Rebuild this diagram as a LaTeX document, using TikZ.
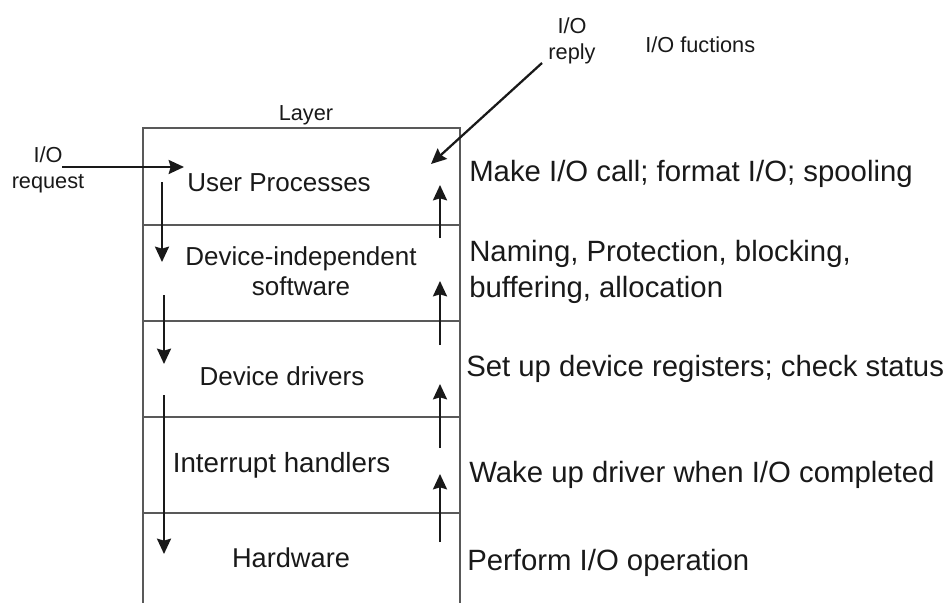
\documentclass[tikz,border=0pt]{standalone}
\usepackage{fontspec}
\setmainfont{Liberation Sans}
\usetikzlibrary{arrows.meta}

\begin{document}
\begin{tikzpicture}[x=0.75pt, y=-0.75pt, >={Stealth[length=11.5pt, width=10.5pt, inset=1.5pt]},
	layertext/.style={anchor=base, align=center, inner sep=0pt, text=black!90, font=\fontsize{19.5}{22}\selectfont},
	fntext/.style={anchor=base west, align=left, inner sep=0pt, text=black!90, font=\fontsize{22}{27}\selectfont},
	smalltext/.style={anchor=base, align=center, inner sep=0pt, text=black!90, font=\fontsize{16.3}{19.5}\selectfont},
	flow/.style={->, line width=1.7pt, black!90},
	rule/.style={line width=1pt, black!65}]
	\useasboundingbox (0, 0) rectangle (946, 603);
	% the layer stack, open at the bottom
	\draw[rule] (143, 603) -- (143, 128) -- (460, 128) -- (460, 603);
	\draw[rule] (143, 225) -- (460, 225);
	\draw[rule] (143, 321) -- (460, 321);
	\draw[rule] (143, 417) -- (460, 417);
	\draw[rule] (143, 513) -- (460, 513);
	% headings (two-line nodes sit on their last line)
	\node[smalltext] (layer) at (306, 120) {Layer};
	\node[smalltext] (reply) at (572, 59) {I/O\\reply};
	\node[smalltext, anchor=base west] (fns) at (645, 52) {I/O fuctions};
	\node[smalltext] (request) at (48, 188) {I/O\\request};
	% layers
	\node[layertext] (user) at (279, 191) {User Processes};
	\node[layertext] (indep) at (301, 295) {Device-independent\\software};
	\node[layertext] (drivers) at (282, 385) {Device drivers};
	\node[layertext, font=\fontsize{20.8}{22}\selectfont] (intr) at (281.5, 472) {Interrupt handlers};
	\node[layertext, font=\fontsize{20.4}{22}\selectfont] (hw) at (291, 567) {Hardware};
	% functions
	\node[fntext] (fnuser) at (469, 181) {Make I/O call; format I/O; spooling};
	\node[fntext] (fnindep) at (469, 297) {Naming, Protection, blocking,\\buffering, allocation};
	\node[fntext] (fndrivers) at (466, 376) {Set up device registers; check status};
	\node[fntext] (fnintr) at (469, 482) {Wake up driver when I/O completed};
	\node[fntext] (fnhw) at (467, 570) {Perform I/O operation};
	% arrow ends
	\coordinate (reqa) at (62, 167);   \coordinate (reqb) at (184, 167);
	\coordinate (repa) at (542, 63);   \coordinate (repb) at (431, 164);
	\coordinate (d1a) at (162, 182);   \coordinate (d1b) at (162, 262);
	\coordinate (d2a) at (164, 295);   \coordinate (d2b) at (164, 364);
	\coordinate (d3a) at (164, 395);   \coordinate (d3b) at (164, 554);
	\coordinate (u1a) at (440, 238);   \coordinate (u1b) at (440, 185);
	\coordinate (u2a) at (440, 345);   \coordinate (u2b) at (440, 281);
	\coordinate (u3a) at (440, 448);   \coordinate (u3b) at (440, 384);
	\coordinate (u4a) at (440, 542);   \coordinate (u4b) at (440, 474);
	\draw[flow] (reqa) -- (reqb);
	\draw[flow] (repa) -- (repb);
	\foreach \s in {d1, d2, d3, u1, u2, u3, u4}
		\draw[flow] (\s a) -- (\s b);
\end{tikzpicture}
\end{document}
